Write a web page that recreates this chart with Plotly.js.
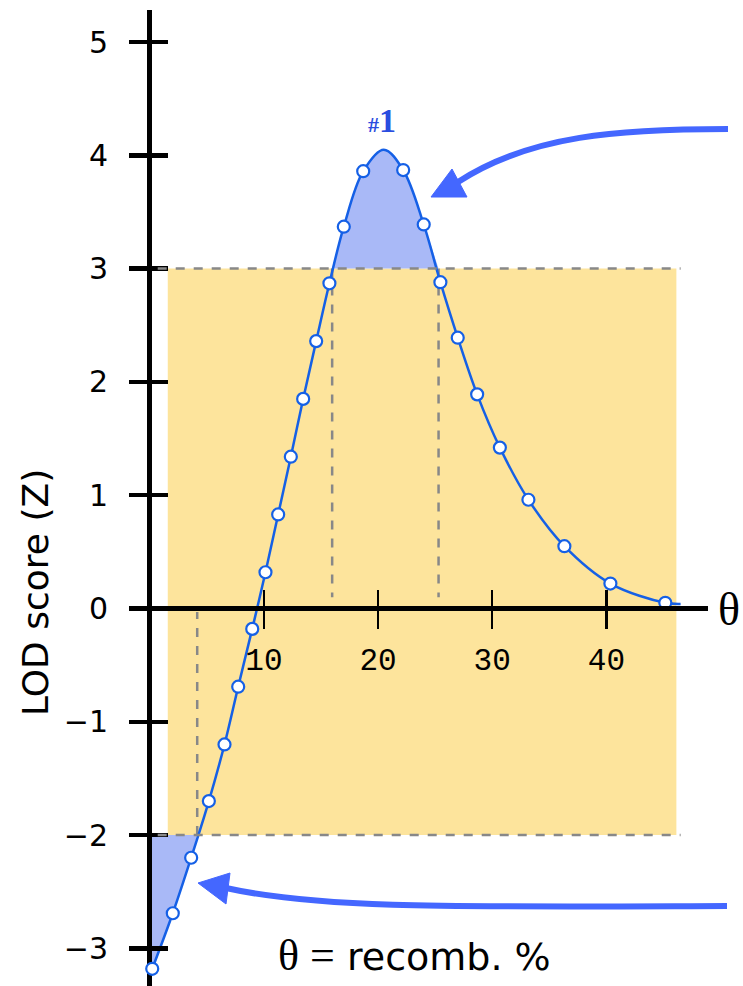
<!DOCTYPE html>
<html><head><meta charset="utf-8">
<script src="https://cdn.plot.ly/plotly-3.0.1.min.js"></script>
<style>html,body{margin:0;padding:0;background:#fff}</style>
</head><body><div id="chart" style="width:743px;height:986px"></div>
<script>
// ---- data ----
// marked points: recombination fraction θ (%) and LOD score Z
const thetaPts = [0.22, 2.02, 3.63, 5.18, 6.55, 7.75, 8.98, 10.14, 11.25, 12.36, 13.44, 14.58, 15.74, 17.0, 18.70, 22.20, 24.0, 25.46, 26.98, 28.68, 30.67, 33.17, 36.32, 40.35, 45.16];
const lodPts   = [-3.18, -2.69, -2.20, -1.70, -1.20, -0.69, -0.18, 0.32, 0.83, 1.34, 1.85, 2.36, 2.87, 3.37, 3.86, 3.87, 3.39, 2.88, 2.39, 1.89, 1.42, 0.96, 0.55, 0.22, 0.05];
// unmarked points read on the drawn curve (peak and tail end)
const peakTheta = 20.5, peakLod = 4.05;
const tailTheta = 46.5, tailLod = 0.04;
// thresholds and their crossings
const upperLod = 3, lowerLod = -2;
const upperCross = [15.98, 25.3];
const lowerCross = 4.16;
const bandTheta = [1.58, 46.13];
// axes
const xTicks = [10, 20, 30, 40];
const yTicks = [-3, -2, -1, 0, 1, 2, 3, 4, 5];
const xRange = [0.2, 48.9];
const yRange = [-3.332, 5.2825];

// ---- build ----
const W = 743, H = 986, L = 152, R = 35, T = 10, B = 0;
const pw = W - L - R, ph = H - T - B;
const px = v => (v - L) / pw;          // pixel -> paper (decorations only)
const py = v => (H - B - v) / ph;

const curveX = [], curveY = [];
thetaPts.forEach((t, i) => {
  curveX.push(t); curveY.push(lodPts[i]);
  if (t < peakTheta && thetaPts[i + 1] > peakTheta) { curveX.push(peakTheta); curveY.push(peakLod); }
});
curveX.push(tailTheta); curveY.push(tailLod);

// upper fill (curve above LOD 3)
const upX = [upperCross[0]], upY = [upperLod];
curveX.forEach((t, i) => { if (curveY[i] > upperLod && t > upperCross[0] && t < upperCross[1]) { upX.push(t); upY.push(curveY[i]); } });
upX.push(upperCross[1]); upY.push(upperLod);

// lower fill (curve below LOD -2, left of curve)
const loX = [0, lowerCross], loY = [lowerLod, lowerLod];
for (let i = thetaPts.length - 1; i >= 0; i--) if (lodPts[i] < lowerLod) { loX.push(thetaPts[i]); loY.push(lodPts[i]); }
loX.push(0); loY.push(lodPts[0] - 0.04);

const blue = '#1560e6', fillBlue = '#a9b9f7', arrowBlue = '#4467ff';

const traces = [
  {x: upX, y: upY, mode: 'lines', line: {width: 0, shape: 'spline', smoothing: 1}, fill: 'toself', fillcolor: fillBlue, hoverinfo: 'skip'},
  {x: loX, y: loY, mode: 'lines', line: {width: 0}, fill: 'toself', fillcolor: fillBlue, hoverinfo: 'skip'},
  {x: curveX, y: curveY, mode: 'lines', line: {color: blue, width: 2.5, shape: 'spline', smoothing: 1}, hoverinfo: 'skip'},
  {x: thetaPts, y: lodPts, mode: 'markers', cliponaxis: false, marker: {size: 12, color: 'white', line: {color: blue, width: 2.2}}},
  {x: [null], y: [null], xaxis: 'x2', yaxis: 'y', hoverinfo: 'skip'},
  {x: [null], y: [null], xaxis: 'x', yaxis: 'y2', hoverinfo: 'skip'}
];

const xPos = (0 - yRange[0]) / (yRange[1] - yRange[0]);
const dash = {color: '#888', width: 2.5, dash: 'dash'};

const shapes = [
  {type: 'rect', xref: 'x', yref: 'y', x0: bandTheta[0], x1: bandTheta[1], y0: lowerLod, y1: upperLod, fillcolor: '#fde49c', line: {width: 0}, layer: 'below'},
  {type: 'line', xref: 'x', yref: 'y', x0: 0.7, x1: tailTheta, y0: upperLod, y1: upperLod, line: dash, layer: 'above'},
  {type: 'line', xref: 'x', yref: 'y', x0: 0.7, x1: tailTheta, y0: lowerLod, y1: lowerLod, line: dash, layer: 'above'},
  {type: 'line', xref: 'x', yref: 'y', x0: upperCross[0], x1: upperCross[0], y0: upperLod, y1: 0.1, line: dash, layer: 'between'},
  {type: 'line', xref: 'x', yref: 'y', x0: upperCross[1], x1: upperCross[1], y0: upperLod, y1: 0.1, line: dash, layer: 'between'},
  {type: 'line', xref: 'x', yref: 'y', x0: lowerCross, x1: lowerCross, y0: lowerLod, y1: -0.03, line: dash, layer: 'between'},
  // curved arrows
  {type: 'path', xref: 'paper', yref: 'paper', layer: 'above',
   path: `M ${px(728)},${py(129)} C ${px(620)},${py(129)} ${px(530)},${py(135)} ${px(458)},${py(182)}`,
   line: {color: arrowBlue, width: 6}},
  {type: 'path', xref: 'paper', yref: 'paper', layer: 'above',
   path: `M ${px(431)},${py(197)} L ${px(452)},${py(169)} L ${px(467)},${py(197)} Z`,
   fillcolor: arrowBlue, line: {color: arrowBlue, width: 1}},
  {type: 'path', xref: 'paper', yref: 'paper', layer: 'above',
   path: `M ${px(226)},${py(888)} C ${px(320)},${py(909)} ${px(450)},${py(907)} ${px(727)},${py(906)}`,
   line: {color: arrowBlue, width: 6}},
  {type: 'path', xref: 'paper', yref: 'paper', layer: 'above',
   path: `M ${px(198)},${py(883)} L ${px(230)},${py(873)} L ${px(226)},${py(904)} Z`,
   fillcolor: arrowBlue, line: {color: arrowBlue, width: 1}}
];

const annotations = [
  {xref: 'paper', yref: 'paper', x: px(35), y: py(593), text: 'LOD score (Z)', textangle: -90, showarrow: false,
   font: {family: 'DejaVu Sans', size: 36, color: '#000'}, xanchor: 'center', yanchor: 'middle'},
  {xref: 'paper', yref: 'paper', x: px(729), y: py(609), text: 'θ', showarrow: false,
   font: {family: 'Liberation Serif', size: 46, color: '#000'}, xanchor: 'center', yanchor: 'middle'},
  {xref: 'paper', yref: 'paper', x: px(414), y: py(955), showarrow: false,
   text: "<span style='font-family:Liberation Serif;font-size:44px'>θ =</span> recomb. %",
   font: {family: 'DejaVu Sans', size: 38, color: '#000'}, xanchor: 'center', yanchor: 'middle'},
  {xref: 'paper', yref: 'paper', x: px(382), y: py(120), showarrow: false,
   text: "<b><span style='font-size:22px'>#</span>1</b>",
   font: {family: 'Liberation Serif', size: 34, color: '#2a4de0'}, xanchor: 'center', yanchor: 'middle'}
];

const layout = {
  width: W, height: H, margin: {l: L, r: R, t: T, b: B, pad: 0},
  paper_bgcolor: '#fff', plot_bgcolor: 'rgba(0,0,0,0)', showlegend: false,
  xaxis: {range: xRange, anchor: 'free', position: xPos, showgrid: false, zeroline: false,
    showline: true, linewidth: 5, linecolor: '#000', ticks: 'outside', ticklen: 18, tickwidth: 2.5, tickcolor: '#000',
    tickvals: xTicks, ticktext: xTicks.map(String), tickfont: {family: 'Liberation Mono', size: 31, color: '#000'},
    ticklabelstandoff: 3},
  xaxis2: {range: xRange, overlaying: 'x', anchor: 'free', position: xPos, showgrid: false, zeroline: false,
    showline: false, ticks: 'inside', ticklen: 18, tickwidth: 2.5, tickcolor: '#000', tickvals: xTicks, showticklabels: false},
  yaxis: {range: yRange, showgrid: false, zeroline: false, showline: true, linewidth: 5, linecolor: '#000',
    layer: 'below traces',
    ticks: 'outside', ticklen: 18, tickwidth: 4.5, tickcolor: '#000', tickvals: yTicks,
    tickfont: {family: 'DejaVu Sans', size: 30, color: '#000'}, ticklabelstandoff: 15},
  yaxis2: {range: yRange, overlaying: 'y', anchor: 'x', side: 'left', showgrid: false, zeroline: false, showline: false,
    ticks: 'inside', ticklen: 16, tickwidth: 4.5, tickcolor: '#000', tickvals: yTicks, showticklabels: false},
  shapes: shapes, annotations: annotations
};

Plotly.newPlot('chart', traces, layout, {staticPlot: true});
</script>
</body></html>
